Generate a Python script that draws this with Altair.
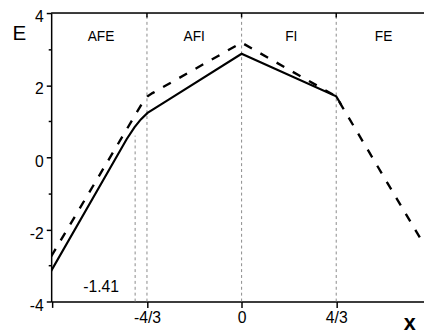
import altair as alt
import pandas as pd

# ---- data ----
solid_x = [-2.683, -1.62, -1.51, -1.42, -1.325, -1.05, 0.0, 1.333, 1.40]
solid_y = [-3.15, 0.50, 0.83, 1.05, 1.23, 1.57, 2.87, 1.69, 1.47]

dashed_x = [-2.683, -1.40, -1.325, -1.256, 0.0, 0.8, 1.333, 1.40, 2.57]
dashed_y = [-2.75, 1.50, 1.69, 1.78, 3.18, 2.28, 1.69, 1.46, -2.42]

grid_x = [-4/3, 0.0, 4/3, -1.5]
grid_y0 = [-4, -4, -4, -4]
grid_y1 = [4, 4, 4, 0.6]

region_names = ["AFE", "AFI", "FI", "FE"]
region_x = [-1.98, -0.667, 0.70, 2.0]
region_y = [3.32, 3.32, 3.32, 3.32]

note_text = ["-1.41"]
note_x = [-1.98]
note_y = [-3.59]

x_ticks = [-8/3, -4/3, 0.0, 4/3]
y_ticks = [-4, -3, -2, -1, 0, 1, 2, 3, 4]
top_border_y = [4]

x_min, x_max = -2.683, 2.57
FONT = "Liberation Sans"

xs = alt.Scale(domain=[x_min, x_max], nice=False, zero=False)
ys = alt.Scale(domain=[-4, 4], nice=False, zero=False)

df_solid = pd.DataFrame({"x": solid_x, "y": solid_y, "i": range(len(solid_x))})
df_dash = pd.DataFrame({"x": dashed_x, "y": dashed_y, "i": range(len(dashed_x))})
df_grid = pd.DataFrame({"x": grid_x, "y0": grid_y0, "y1": grid_y1})
df_top = pd.DataFrame({"x": x_ticks[1:], "y0": [4, 4, 4], "y1": [3.88, 3.88, 3.88]})
df_border = pd.DataFrame({"y": top_border_y})
df_reg = pd.DataFrame({"t": region_names, "x": region_x, "y": region_y})
df_note = pd.DataFrame({"t": note_text, "x": note_x, "y": note_y})

x_axis = alt.Axis(
    orient="bottom", values=x_ticks,
    labelExpr="datum.value < -2 ? '' : (abs(datum.value) < 0.01 ? '0' : (datum.value < 0 ? '-4/3' : '4/3'))",
    tickSize=6, tickWidth=1.5, tickColor="black",
    domainColor="black", domainWidth=1.5,
    labelFontSize=16, labelFontWeight="normal", labelColor="black",
    labelPadding=2, labelFlush=False,
    grid=False,
    title="x", titleFontSize=22, titleFontWeight="bold", titleColor="black",
    titleX=365, titleY=22, titleAlign="center", titleBaseline="middle",
)
y_axis = alt.Axis(
    orient="left", values=y_ticks,
    labelExpr="datum.value % 2 == 0 ? toString(datum.value) : ''",
    tickSize={"condition": {"test": "datum.value % 2 != 0", "value": 3}, "value": 5},
    tickWidth=1.5, tickColor="black",
    domainColor="black", domainWidth=1.5,
    labelFontSize=16, labelFontWeight="normal", labelColor="black",
    labelPadding=3, labelFlush=False,
    labelOffset=4, grid=False,
    title="E", titleFontSize=21, titleFontWeight="normal", titleColor="black",
    titleAngle=0, titleX=-33, titleY=21, titleAlign="center", titleBaseline="middle",
)


def X(field):
    return alt.X(field, scale=xs, axis=x_axis)


def Y(field):
    return alt.Y(field, scale=ys, axis=y_axis)


grid = alt.Chart(df_grid).mark_rule(color="#8a8a8a", strokeWidth=1, strokeDash=[3, 3]).encode(
    x=X("x:Q"), y=Y("y0:Q"), y2="y1:Q",
)
top_ticks = alt.Chart(df_top).mark_rule(color="black", strokeWidth=1.5).encode(
    x=X("x:Q"), y=Y("y0:Q"), y2="y1:Q",
)
border = alt.Chart(df_border).mark_rule(color="black", strokeWidth=1.5).encode(
    y=Y("y:Q"),
)
solid = alt.Chart(df_solid).mark_line(color="black", strokeWidth=2.2, clip=True).encode(
    x=X("x:Q"), y=Y("y:Q"), order="i:Q",
)
dashed = alt.Chart(df_dash).mark_line(color="black", strokeWidth=2.4, strokeDash=[9, 10], clip=True).encode(
    x=X("x:Q"), y=Y("y:Q"), order="i:Q",
)
regions = alt.Chart(df_reg).mark_text(fontSize=14, font=FONT, color="black").encode(
    x=X("x:Q"), y=Y("y:Q"), text="t:N"
)
note = alt.Chart(df_note).mark_text(fontSize=16, font=FONT, color="black").encode(
    x=X("x:Q"), y=Y("y:Q"), text="t:N"
)

chart = alt.layer(grid, dashed, solid, regions, note, top_ticks, border).properties(
    width=380, height=294,
    padding={"left": 44, "top": 2, "right": 0, "bottom": 32},
    autosize=alt.AutoSizeParams(type="none"),
    background="white",
).configure_view(stroke=None).configure(font=FONT).configure_axis(
    labelFont=FONT, titleFont=FONT
)

chart.save("out.html", embed_options={"renderer": "svg", "actions": False})
